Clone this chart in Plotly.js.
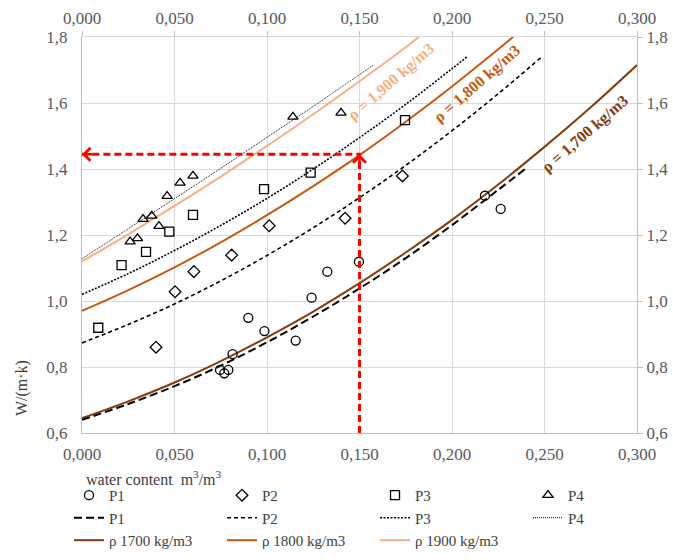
<!DOCTYPE html>
<html>
<head>
<meta charset="utf-8">
<script src="https://cdn.plot.ly/plotly-3.0.1.min.js"></script>
<style>html,body{margin:0;padding:0;background:#fff;}#chart{width:673px;height:560px;}</style>
</head>
<body>
<div id="chart"></div>
<script>
// Measured points
const p1X = [0.0746,0.0769,0.0791,0.0814,0.0899,0.0986,0.1155,0.1241,0.1326,0.1497,0.2178,0.2263];
const p1Y = [0.791,0.781,0.791,0.839,0.949,0.909,0.880,1.010,1.089,1.119,1.319,1.279];
const p2X = [0.040,0.0503,0.0605,0.0809,0.1012,0.1422,0.1732];
const p2Y = [0.860,1.028,1.089,1.139,1.228,1.251,1.379];
const p3X = [0.0088,0.0214,0.0346,0.0472,0.060,0.0984,0.1236,0.1746];
const p3Y = [0.919,1.109,1.149,1.210,1.261,1.339,1.389,1.548];
const p4X = [0.026,0.030,0.033,0.0377,0.0416,0.046,0.053,0.060,0.114,0.140];
const p4Y = [1.180,1.190,1.248,1.258,1.227,1.318,1.358,1.379,1.558,1.570];

// Fitted curves
const p1FitX = [0,0.025,0.05,0.075,0.1,0.125,0.15,0.175,0.2,0.225,0.24];
const p1FitY = [0.640,0.688,0.742,0.804,0.875,0.953,1.038,1.130,1.230,1.337,1.402];
const p2FitX = [0,0.025,0.05,0.075,0.1,0.125,0.15,0.175,0.2,0.225,0.2485];
const p2FitY = [0.873,0.929,0.991,1.061,1.138,1.222,1.313,1.411,1.516,1.628,1.740];
const p3FitX = [0,0.025,0.05,0.075,0.1,0.125,0.15,0.175,0.2,0.2085];
const p3FitY = [1.020,1.083,1.153,1.229,1.311,1.400,1.495,1.596,1.704,1.742];
const p4FitX = [0,0.025,0.05,0.075,0.1,0.125,0.1575];
const p4FitY = [1.128,1.219,1.310,1.402,1.496,1.590,1.715];

const rho1700X = [0,0.025,0.05,0.075,0.1,0.125,0.15,0.175,0.2,0.225,0.25,0.275,0.3];
const rho1700Y = [0.645,0.696,0.753,0.818,0.890,0.968,1.054,1.147,1.246,1.353,1.467,1.587,1.715];
const rho1800X = [0,0.025,0.05,0.075,0.1,0.125,0.15,0.175,0.2,0.225,0.233];
const rho1800Y = [0.970,1.033,1.102,1.178,1.260,1.348,1.442,1.543,1.650,1.763,1.800];
const rho1900X = [0,0.025,0.05,0.075,0.1,0.125,0.15,0.175,0.182];
const rho1900Y = [1.120,1.202,1.288,1.377,1.470,1.566,1.666,1.769,1.800];

// Reading guide (red dashed arrows)
const guideX = [0.150,0.150,0.000];
const guideY = [0.600,1.445,1.445];

// Labels
const seriesNames = ['P1','P2','P3','P4'];
const rhoNames = ['ρ 1700 kg/m3','ρ 1800 kg/m3','ρ 1900 kg/m3'];
const rhoLabels = ['ρ = 1,700 kg/m3','ρ = 1,800 kg/m3','ρ = 1,900 kg/m3'];
const rhoLabelX = [0.272,0.2135,0.167];
const rhoLabelY = [1.506,1.658,1.664];
const xTicks = [0,0.05,0.1,0.15,0.2,0.25,0.3];
const yTicks = [0.6,0.8,1.0,1.2,1.4,1.6,1.8];

const C1700 = '#843C0C', C1800 = '#C55A11', C1900 = '#F4B183';
const SERIF = "'Liberation Serif', 'DejaVu Serif', serif";

const traces = [];
// colored density lines
[[rho1700X,rho1700Y,C1700],[rho1800X,rho1800Y,C1800],[rho1900X,rho1900Y,C1900]].forEach((d,i)=>{
  traces.push({x:d[0], y:d[1], type:'scatter', mode:'lines', name:rhoNames[i],
    line:{color:d[2], width:2, shape:'spline'}, legendrank: 9+i});
});
// fitted black lines
const fitStyles = [
  {dash:'8px,4px', width:2},
  {dash:'4px,3px', width:1.6},
  {dash:'2px,1.5px', width:1.6},
  {dash:'1px,1px', width:1}
];
[[p1FitX,p1FitY],[p2FitX,p2FitY],[p3FitX,p3FitY],[p4FitX,p4FitY]].forEach((d,i)=>{
  traces.push({x:d[0], y:d[1], type:'scatter', mode:'lines', name:seriesNames[i],
    line:{color:'#000', width:fitStyles[i].width, dash:fitStyles[i].dash, shape:'spline'}, legendrank: 5+i});
});
// markers
const symbols = ['circle-open','diamond-open','square-open','triangle-up-open'];
[[p1X,p1Y],[p2X,p2Y],[p3X,p3Y],[p4X,p4Y]].forEach((d,i)=>{
  traces.push({x:d[0], y:d[1], type:'scatter', mode:'markers', name:seriesNames[i],
    marker:{symbol:symbols[i], size:9, color:'#000', line:{width:1.3, color:'#000'}}, legendrank: 1+i});
});
// guide lines
traces.push({x:guideX, y:guideY, type:'scatter', mode:'lines', showlegend:false, hoverinfo:'skip',
  line:{color:'#FF0000', width:3, dash:'7px,4px'}, cliponaxis:false});

const annotations = [];
rhoLabels.forEach((t,i)=>{
  annotations.push({x:rhoLabelX[i], y:rhoLabelY[i], xref:'x', yref:'y', text:'<b>'+t+'</b>', showarrow:false,
    textangle:-41, font:{family:SERIF, size:16, color:[C1700,C1800,C1900][i]}});
});
// arrow heads
annotations.push({x:guideX[1], y:guideY[1], xref:'x', yref:'y', ax:0, ay:12, text:'', showarrow:true,
  arrowhead:4, arrowwidth:2.5, arrowsize:1, arrowcolor:'#FF0000'});
annotations.push({x:guideX[2], y:guideY[2], xref:'x', yref:'y', ax:12, ay:0, text:'', showarrow:true,
  arrowhead:4, arrowwidth:2.5, arrowsize:1, arrowcolor:'#FF0000'});
// axis titles
annotations.push({xref:'paper', yref:'paper', x:0.003, y:-0.1136, xanchor:'left', yanchor:'middle', showarrow:false,
  text:'water content\u00a0 m<sup>3</sup>/m<sup>3</sup>', font:{family:SERIF, size:16, color:'#404040'}});
annotations.push({xref:'paper', yref:'paper', x:-0.108, y:0.1136, xanchor:'center', yanchor:'middle', showarrow:false,
  textangle:-90, text:'W/(m·k)', font:{family:SERIF, size:16, color:'#404040'}});

const tickFont = {family:SERIF, size:17, color:'#595959'};
const layout = {
  width:673, height:560,
  margin:{l:82, r:36, t:37, b:127, autoexpand:false},
  paper_bgcolor:'#fff', plot_bgcolor:'#fff',
  separators:', ',
  font:{family:SERIF},
  showlegend:true,
  xaxis:{range:[0,0.3], tickvals:xTicks, tickformat:'.3f', showgrid:true, gridcolor:'#D9D9D9', gridwidth:1,
    zeroline:false, showline:true, linecolor:'#BFBFBF', linewidth:1, ticks:'', tickfont:tickFont, ticklabelstandoff:6},
  xaxis2:{range:[0,0.3], overlaying:'x', side:'top', anchor:'y', tickvals:xTicks, tickformat:'.3f', showgrid:false,
    zeroline:false, showline:true, linecolor:'#D9D9D9', ticks:'outside', ticklen:5, tickcolor:'#BFBFBF', tickfont:tickFont},
  yaxis:{range:[0.6,1.8], tickvals:yTicks, tickformat:'.1f', showgrid:true, gridcolor:'#D9D9D9', gridwidth:1,
    zeroline:false, showline:true, linecolor:'#BFBFBF', linewidth:1, ticks:'', tickfont:tickFont, ticklabelstandoff:10},
  yaxis2:{range:[0.6,1.8], overlaying:'y', side:'right', anchor:'x', tickvals:yTicks, tickformat:'.1f', showgrid:false,
    zeroline:false, showline:true, linecolor:'#BFBFBF', ticks:'outside', ticklen:5, tickcolor:'#BFBFBF', tickfont:tickFont},
  legend:{orientation:'h', x:-0.0234, xanchor:'left', y:-0.116, yanchor:'top',
    entrywidth:108, entrywidthmode:'pixels', itemwidth:30,
    font:{family:SERIF, size:15, color:'#404040'}, traceorder:'normal', bgcolor:'rgba(0,0,0,0)'},
  annotations:annotations
};
// dummy traces so secondary axes are drawn
traces.push({x:[0.15], y:[1.2], xaxis:'x2', yaxis:'y', mode:'markers', marker:{opacity:0}, showlegend:false, hoverinfo:'skip'});
traces.push({x:[0.15], y:[1.2], xaxis:'x', yaxis:'y2', mode:'markers', marker:{opacity:0}, showlegend:false, hoverinfo:'skip'});

Plotly.newPlot('chart', traces, layout, {displayModeBar:false, staticPlot:true});
</script>
</body>
</html>
